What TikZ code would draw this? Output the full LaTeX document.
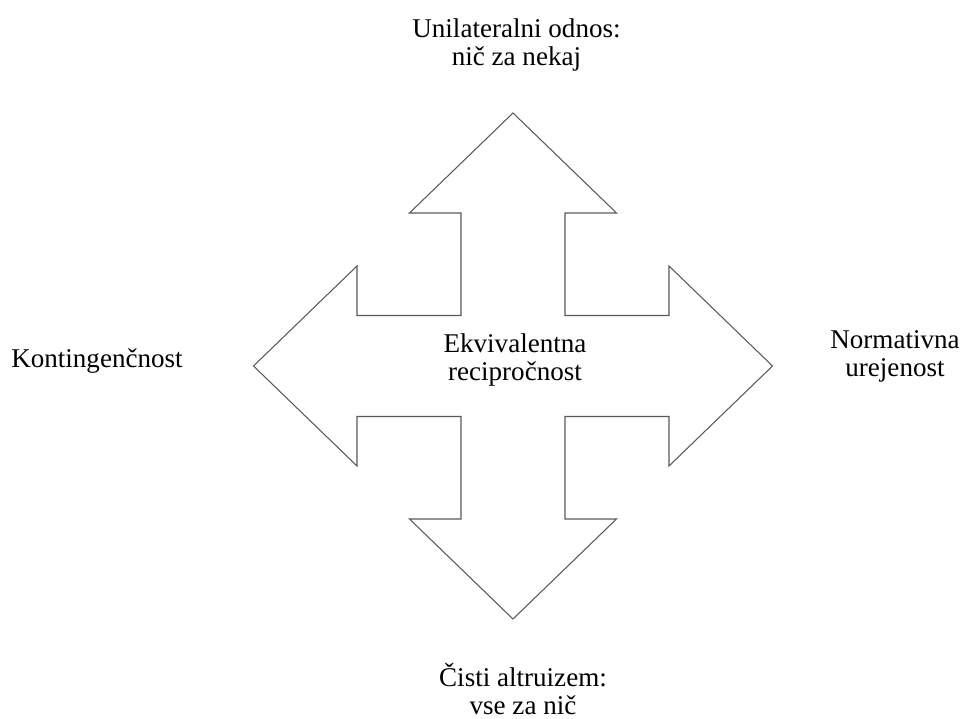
\documentclass[tikz,border=0pt]{standalone}
\usepackage{fontspec}
\setmainfont{Liberation Serif}

\begin{document}
\begin{tikzpicture}[
        outline/.style={draw=black!65,line width=0.6pt,line join=miter},
        txt/.style={font=\fontsize{15.4}{16.4}\selectfont,align=center,anchor=base}
    ]
            \useasboundingbox (-10.26,-7.06) rectangle (8.96,7.32);

            % the four-way arrow
            \draw[outline] (0,5.06) -- (2.07,3.06) -- (1.04,3.06) -- (1.04,1.01)
                -- (3.12,1.01) -- (3.12,2.0) -- (5.19,0) -- (3.12,-2.0) -- (3.12,-1.01)
                -- (1.04,-1.01) -- (1.04,-3.06) -- (2.07,-3.06) -- (0,-5.06)
                -- (-2.07,-3.06) -- (-1.04,-3.06) -- (-1.04,-1.01) -- (-3.12,-1.01)
                -- (-3.12,-2.0) -- (-5.19,0) -- (-3.12,2.0) -- (-3.12,1.01)
                -- (-1.04,1.01) -- (-1.04,3.06) -- (-2.07,3.06) -- cycle;

            % labels (anchor base = last line)
            \node[txt] (center) at (0.04,-0.30) {Ekvivalentna\\recipročnost};
            \node[txt] (top) at (0.07,6.0) {Unilateralni odnos:\\nič za nekaj};
            \node[txt] (bottom) at (0.2,-6.98) {Čisti altruizem:\\vse za nič};
            \node[txt] (left) at (-8.32,-0.04) {Kontingenčnost};
            \node[txt] (right) at (7.64,-0.22) {Normativna\\urejenost};
        \end{tikzpicture}
\end{document}
